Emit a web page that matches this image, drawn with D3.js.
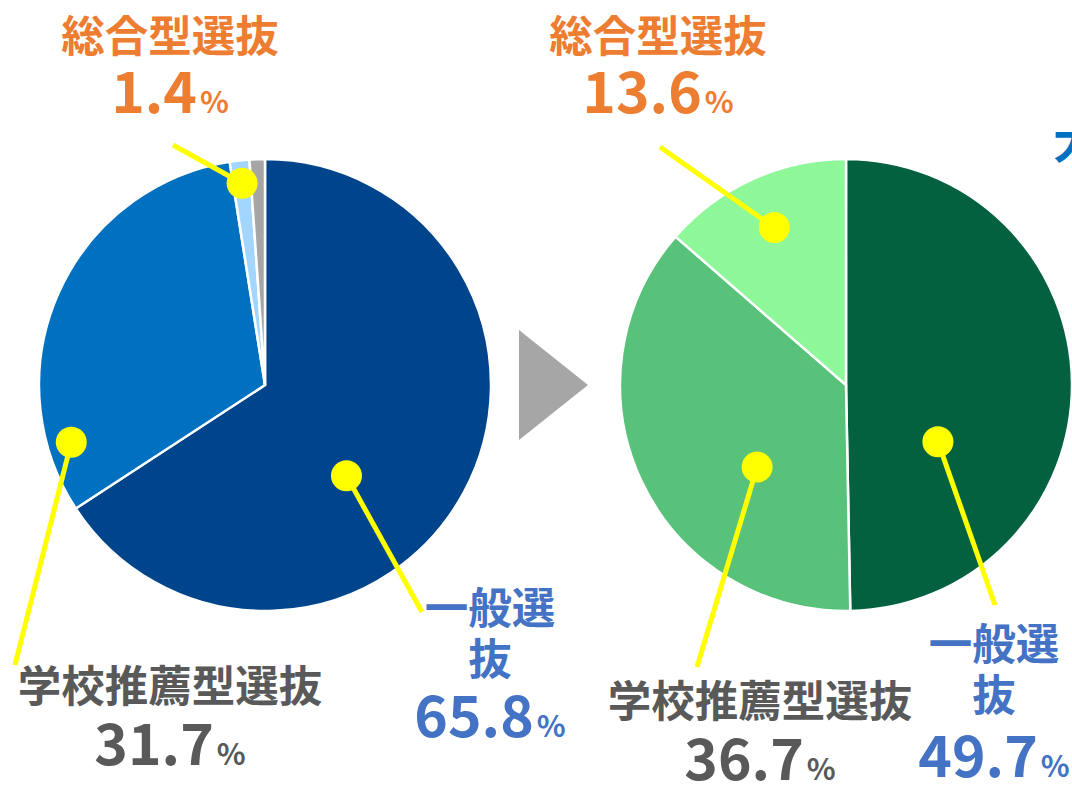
<!DOCTYPE html>
<html>
<head>
<meta charset="utf-8">
<script src="https://cdn.jsdelivr.net/npm/d3@7"></script>
<style>
    body { margin: 0; background: #fff; }
    svg { display: block; font-family: "Noto Sans CJK JP", "Noto Sans", sans-serif; font-weight: 700; }
</style>
</head>
<body>
<div id="chart"></div>
<script>
// Data
const categories = ["一般選抜", "学校推薦型選抜", "総合型選抜", "その他"];
const shareBefore = [65.8, 31.7, 1.4, 1.1];
const shareAfter = [49.7, 36.7, 13.6, 0];

// Colors
const colorsBefore = ["#00458b", "#0070c0", "#a3d6ff", "#a6a6a6"];
const colorsAfter = ["#036140", "#58c27a", "#8ef799", "#a6a6a6"];
const labelColors = ["#4472c4", "#595959", "#ed7d31"];

const width = 1072, height = 786, radius = 226;

const svg = d3.select("#chart").append("svg")
    .attr("width", width)
    .attr("height", height);

// Layout of each pie: center, and where the leader dots / labels go
const pies = [
    {
        cx: 265, cy: 385, values: shareBefore, colors: colorsBefore,
        labels: [
            // t = position within slice, r = dot distance from center
            { i: 0, t: 0.583, r: 122, end: [422, 612], lines: ["一般選", "抜"], x: 490, y: 624, numY: 737 },
            { i: 1, t: 0.146, r: 202, end: [15, 665], lines: ["学校推薦型選抜"], x: 170, y: 702, numY: 765 },
            { i: 2, t: 0.5, r: 203, end: [173, 145], lines: ["総合型選抜"], x: 170, y: 52, numY: 113 }
        ]
    },
    {
        cx: 846, cy: 385, values: shareAfter, colors: colorsAfter,
        labels: [
            { i: 0, t: 0.68, r: 108, end: [995, 605], lines: ["一般選", "抜"], x: 994, y: 660, numY: 777 },
            { i: 1, t: 0.366, r: 121, end: [697, 667], lines: ["学校推薦型選抜"], x: 760, y: 717, numY: 780 },
            { i: 2, t: 0.5, r: 173, end: [660, 147], lines: ["総合型選抜"], x: 658, y: 52, numY: 113 }
        ]
    }
];

const pie = d3.pie().sort(null).value(d => d);
const arc = d3.arc().innerRadius(0).outerRadius(radius);

pies.forEach(p => {
    const g = svg.append("g").attr("transform", `translate(${p.cx},${p.cy})`);
    const arcs = pie(p.values);

    g.selectAll("path.slice")
        .data(arcs.filter(d => d.value > 0))
        .enter().append("path")
        .attr("class", "slice")
        .attr("d", arc)
        .attr("fill", d => p.colors[d.index])
        .attr("stroke", "#fff")
        .attr("stroke-width", 2.5);

    // leader lines + dots
    p.labels.forEach(l => {
        const a = arcs[l.i];
        const ang = a.startAngle + l.t * (a.endAngle - a.startAngle);
        const dx = l.r * Math.sin(ang), dy = -l.r * Math.cos(ang);

        g.append("line")
            .attr("x1", dx).attr("y1", dy)
            .attr("x2", l.end[0] - p.cx).attr("y2", l.end[1] - p.cy)
            .attr("stroke", "#ffff00")
            .attr("stroke-width", 5);

        g.append("circle")
            .attr("cx", dx).attr("cy", dy)
            .attr("r", 15.5)
            .attr("fill", "#ffff00");
    });

    // text labels
    p.labels.forEach(l => {
        const color = labelColors[l.i];
        l.lines.forEach((txt, k) => {
            svg.append("text")
                .attr("x", l.x)
                .attr("y", l.y + k * 51)
                .attr("text-anchor", "middle")
                .attr("fill", color)
                .attr("font-size", 43.5)
                .text(txt);
        });
        const num = svg.append("text")
            .attr("x", l.x)
            .attr("y", l.numY)
            .attr("text-anchor", "middle")
            .attr("fill", color);
        num.append("tspan")
            .attr("font-size", 57)
            .text(p.values[l.i].toFixed(1));
        num.append("tspan")
            .attr("font-size", 30)
            .attr("dx", 3)
            .text("%");
    });
});

// Arrow between the pies
svg.append("path")
    .attr("d", d3.line()([[519, 330], [588, 385], [519, 440]]))
    .attr("fill", "#a6a6a6");

// Cut-off heading at the right edge
svg.append("text")
    .attr("x", 1053)
    .attr("y", 158)
    .attr("fill", "#0070c0")
    .attr("font-size", 46)
    .text("大");
</script>
</body>
</html>
